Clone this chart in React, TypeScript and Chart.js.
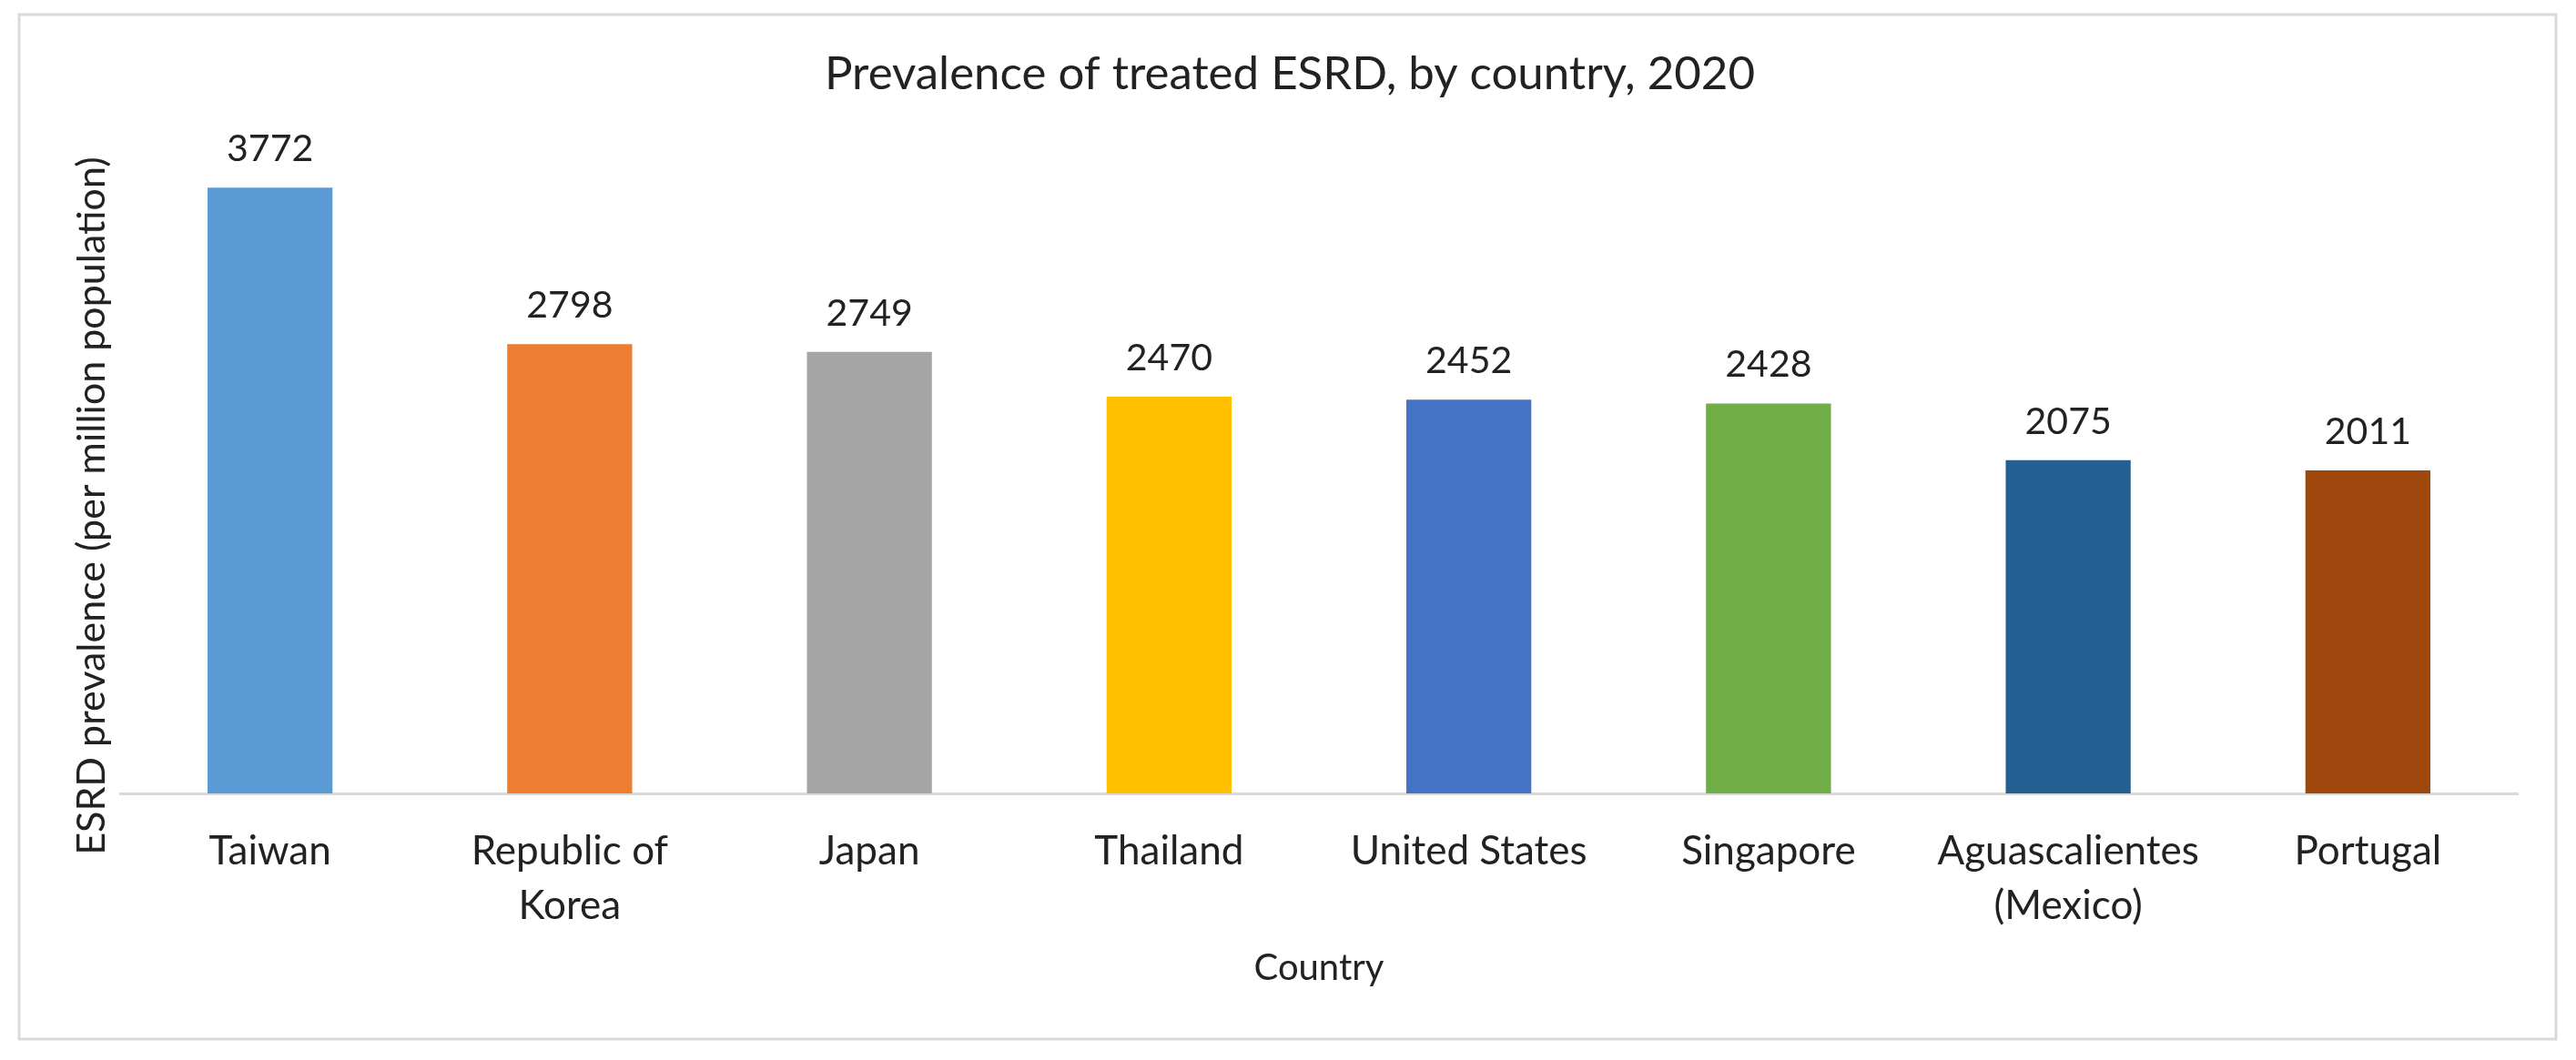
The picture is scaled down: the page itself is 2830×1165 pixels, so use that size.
import React, { useEffect, useRef } from 'react';
import { Chart, registerables } from 'chart.js';

Chart.register(...registerables);

// ---- data ----
const categories: (string | string[])[] = [
  'Taiwan',
  ['Republic of', 'Korea'],
  'Japan',
  'Thailand',
  'United States',
  'Singapore',
  ['Aguascalientes', '(Mexico)'],
  'Portugal',
];
const prevalence: number[] = [3772, 2798, 2749, 2470, 2452, 2428, 2075, 2011];
const barColors: string[] = [
  '#5B9BD5',
  '#ED7D31',
  '#A5A5A5',
  '#FFC000',
  '#4472C4',
  '#70AD47',
  '#255E91',
  '#9E480E',
];
const chartTitle = 'Prevalence of treated ESRD, by country, 2020';
const xAxisTitle = 'Country';
const yAxisTitle = 'ESRD prevalence (per million population)';
const yMin = 0;
const yMax = 4000;

const TEXT = '#222222';
const FONT = 'Lato';
const W = 2830;
const H = 1165;

const framePlugin = {
  id: 'frame',
  beforeDraw(chart: any) {
    const { ctx } = chart;
    ctx.save();
    ctx.fillStyle = '#ffffff';
    ctx.fillRect(0, 0, chart.width, chart.height);
    ctx.strokeStyle = '#d9d9d9';
    ctx.lineWidth = 3;
    ctx.strokeRect(21, 16, chart.width - 21 - 22, chart.height - 16 - 23);
    ctx.restore();
  },
};

const valueLabelPlugin = {
  id: 'valueLabels',
  afterDatasetsDraw(chart: any) {
    const { ctx } = chart;
    const meta = chart.getDatasetMeta(0);
    ctx.save();
    ctx.fillStyle = TEXT;
    ctx.font = `41px ${FONT}`;
    ctx.textAlign = 'center';
    ctx.textBaseline = 'alphabetic';
    meta.data.forEach((bar: any, i: number) => {
      ctx.fillText(String(prevalence[i]), bar.x, bar.y - 29);
    });
    ctx.restore();
  },
};

const yTitlePlugin = {
  id: 'yTitle',
  afterDraw(chart: any) {
    const { ctx, chartArea } = chart;
    ctx.save();
    ctx.fillStyle = TEXT;
    ctx.font = `43px ${FONT}`;
    ctx.textAlign = 'center';
    ctx.textBaseline = 'alphabetic';
    ctx.translate(chartArea.left - 17, (chartArea.top + chartArea.bottom) / 2 + 37);
    ctx.rotate(-Math.PI / 2);
    ctx.fillText(yAxisTitle, 0, 0);
    ctx.restore();
  },
};

export default function App() {
  const canvasRef = useRef<HTMLCanvasElement | null>(null);

  useEffect(() => {
    if (!canvasRef.current) return;
    Chart.defaults.font.family = FONT;
    const chart = new Chart(canvasRef.current, {
      type: 'bar',
      data: {
        labels: categories as any,
        datasets: [
          {
            data: prevalence,
            backgroundColor: barColors,
            borderWidth: 0,
            barPercentage: 0.417,
            categoryPercentage: 1,
          },
        ],
      },
      options: {
        responsive: false,
        animation: false,
        devicePixelRatio: 1,
        layout: { padding: { left: 68, right: 64, top: 0, bottom: 56 } },
        plugins: {
          legend: { display: false },
          tooltip: { enabled: false },
          title: {
            display: true,
            text: chartTitle,
            color: TEXT,
            font: { family: FONT, size: 51, weight: 'normal', lineHeight: 1.2 },
            padding: { top: 51.4, bottom: 53.4 },
          },
        },
        scales: {
          x: {
            grid: { display: false, drawTicks: false },
            border: { display: true, color: '#d9d9d9', width: 3 },
            ticks: {
              color: TEXT,
              font: { family: FONT, size: 44, lineHeight: 1.364 },
              padding: 34,
              maxRotation: 0,
              minRotation: 0,
              autoSkip: false,
            },
            title: {
              display: true,
              text: xAxisTitle,
              color: TEXT,
              font: { family: FONT, size: 40, lineHeight: 1.27 },
              padding: { top: -21.9, bottom: 20 },
            },
          },
          y: {
            min: yMin,
            max: yMax,
            grid: { display: false, drawTicks: false },
            border: { display: false },
            ticks: { display: false },
            afterFit(scale: any) {
              scale.width = 64;
            },
          },
        },
      },
      plugins: [framePlugin, valueLabelPlugin, yTitlePlugin],
    });
    return () => chart.destroy();
  }, []);

  return (
    <div style={{ position: 'absolute', left: 0, top: 0, width: W, height: H, background: '#fff' }}>
      <canvas ref={canvasRef} width={W} height={H} style={{ display: 'block', width: W, height: H }} />
    </div>
  );
}
